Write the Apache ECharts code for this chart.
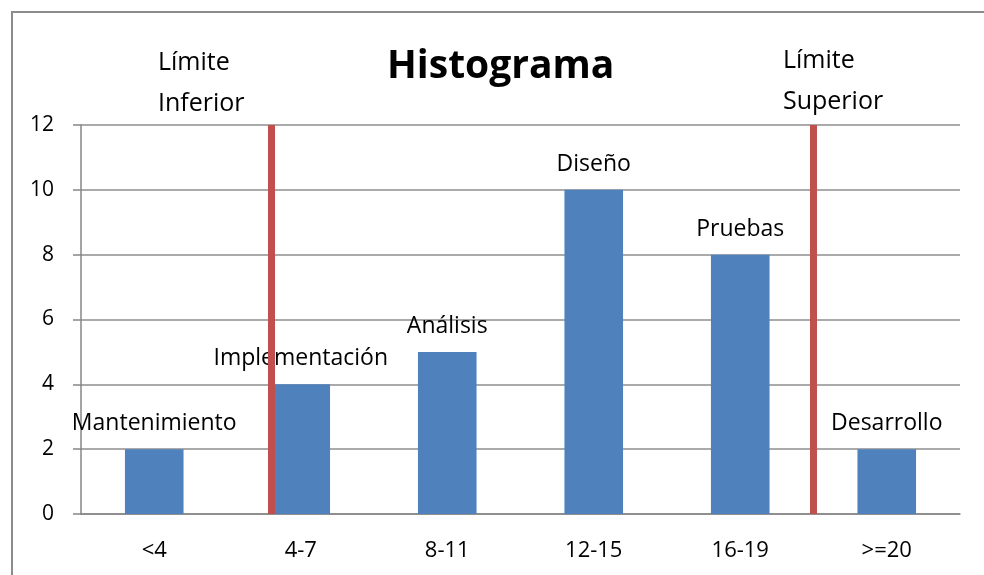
<!DOCTYPE html>
<html>
<head>
<meta charset="utf-8">
<script src="https://cdn.jsdelivr.net/npm/echarts@6/dist/echarts.min.js"></script>
<style>
  html, body { margin: 0; padding: 0; background: #fff; }
  #chart { width: 984px; height: 575px; }
</style>
</head>
<body>
<div id="chart"></div>
<script>
// datos del histograma
const categories = ['<4', '4-7', '8-11', '12-15', '16-19', '>=20'];
const counts = [2, 4, 5, 10, 8, 2];
const phases = ['Mantenimiento', 'Implementación', 'Análisis', 'Diseño', 'Pruebas', 'Desarrollo'];
const yTicks = [0, 2, 4, 6, 8, 10, 12];
// límites sobre la escala de horas (0..24)
const limitValues = [5.2, 20];
const limitNames = [['Límite', 'Inferior'], ['Límite', 'Superior']];

const font = '"Open Sans", "Noto Sans", sans-serif';
const chart = echarts.init(document.getElementById('chart'));

chart.setOption({
  animation: false,
  title: {
    text: 'Histograma',
    left: 382,
    top: 42,
    textStyle: { fontFamily: font, fontSize: 39, fontWeight: 'bold', color: '#000' }
  },
  grid: { left: 81, right: 24, top: 125, bottom: 61 },
  xAxis: [
    {
      type: 'category',
      data: categories,
      axisLine: { lineStyle: { color: '#868686', width: 1.5 } },
      axisTick: { length: 8, lineStyle: { color: '#868686', width: 1.5 } },
      axisLabel: { margin: 26, fontFamily: font, fontSize: 22, color: '#000' }
    },
    {
      // eje auxiliar para los límites
      type: 'value',
      min: 0,
      max: 24,
      show: false
    }
  ],
  yAxis: {
    type: 'value',
    min: yTicks[0],
    max: yTicks[yTicks.length - 1],
    interval: 2,
    axisLine: { show: true, lineStyle: { color: '#868686', width: 1.5 } },
    axisTick: { show: true, length: 8, lineStyle: { color: '#868686', width: 1.5 } },
    axisLabel: { margin: 27, fontFamily: font, fontSize: 21, color: '#000' },
    splitLine: { lineStyle: { color: '#8e8e8e', width: 1.5 } }
  },
  series: [
    {
      type: 'bar',
      data: counts,
      barWidth: '40%',
      itemStyle: { color: '#4F81BD' },
      label: {
        show: true,
        position: 'top',
        distance: 14,
        fontFamily: font,
        fontSize: 23,
        color: '#000',
        formatter: (p) => phases[p.dataIndex]
      },
      z: 2
    },
    {
      type: 'line',
      xAxisIndex: 1,
      data: [],
      markLine: {
        symbol: 'none',
        silent: true,
        label: { show: false },
        lineStyle: { color: '#C0504D', width: 7, type: 'solid' },
        data: limitValues.map((v) => ({ xAxis: v }))
      },
      z: 3
    }
  ],
  graphic: [
    {
      type: 'rect',
      shape: { x: 12, y: 12, width: 1000, height: 600 },
      style: { fill: 'none', stroke: '#8c8c8c', lineWidth: 2 },
      silent: true
    },
    {
      type: 'text',
      left: 158,
      top: 42,
      style: { text: limitNames[0].join('\n'), fontFamily: font, fontSize: 25, lineHeight: 41, fill: '#000' }
    },
    {
      type: 'text',
      left: 783,
      top: 40,
      style: { text: limitNames[1].join('\n'), fontFamily: font, fontSize: 25, lineHeight: 41, fill: '#000' }
    }
  ]
});
</script>
</body>
</html>
